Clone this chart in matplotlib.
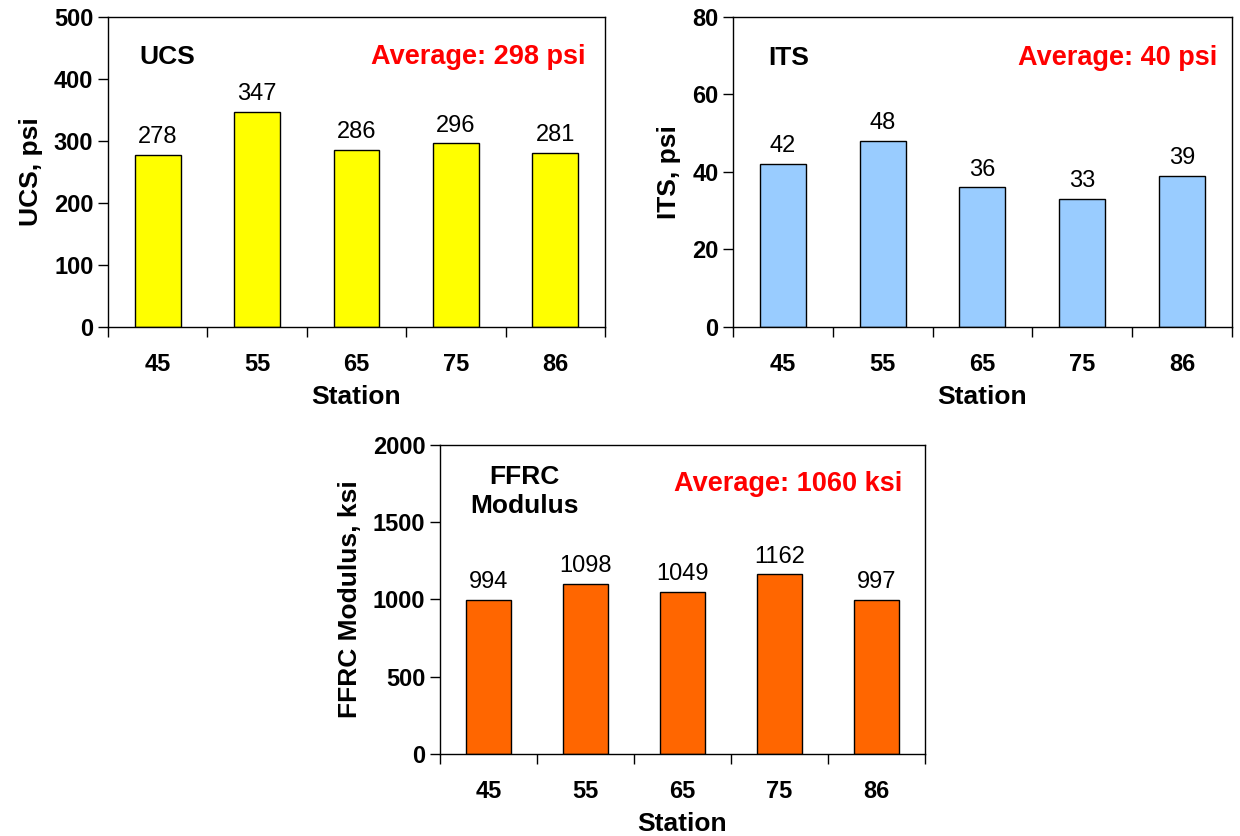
import numpy as np
import matplotlib
matplotlib.use("Agg")
import matplotlib.pyplot as plt

plt.rcParams['font.family'] = ['Liberation Sans', 'DejaVu Sans']

stations = ["45", "55", "65", "75", "86"]
ucs = [278, 347, 286, 296, 281]
its = [42, 48, 36, 33, 39]
ffrc = [994, 1098, 1049, 1162, 997]

fig = plt.figure(figsize=(12.4, 8.36), dpi=100)
ax1 = fig.add_axes([0.0871, 0.6089, 0.4008, 0.3708])
ax2 = fig.add_axes([0.5911, 0.6089, 0.4024, 0.3708])
ax3 = fig.add_axes([0.3548, 0.0981, 0.3911, 0.3696])


def panel(ax, vals, color, ymax, ystep, ylabel, name, name_xy, avg_text, avg_xy):
    x = np.arange(len(vals))
    bars = ax.bar(x, vals, width=0.46, color=color, edgecolor="black", linewidth=1)
    for b, v in zip(bars, vals):
        ax.annotate(str(v), (b.get_x() + b.get_width() / 2, v), xytext=(0, 5),
                    textcoords="offset points", ha="center", va="bottom", fontsize=17)
    ax.set_xlim(-0.5, len(vals) - 0.5)
    ax.set_ylim(0, ymax)
    ax.set_yticks(np.arange(0, ymax + 1, ystep))
    # ticks sit between the stations, labels at the bar centres
    ax.set_xticks(np.arange(len(vals) + 1) - 0.5)
    ax.set_xticklabels([])
    ax.set_xticks(x, minor=True)
    ax.set_xticklabels(stations, minor=True, fontsize=17, fontweight="bold")
    ax.tick_params(axis="x", which="major", direction="out", length=7, width=1)
    ax.tick_params(axis="x", which="minor", length=0, pad=19)
    ax.tick_params(axis="y", direction="out", length=7, width=1, labelsize=17)
    for lab in ax.get_yticklabels():
        lab.set_fontweight("bold")
    for s in ax.spines.values():
        s.set_linewidth(1)
    ax.set_xlabel("Station", fontsize=19, fontweight="bold", labelpad=6)
    ax.set_ylabel(ylabel, fontsize=19, fontweight="bold", labelpad=8)
    ax.text(name_xy[0], name_xy[1], name, transform=ax.transAxes, fontsize=19,
            fontweight="bold", ha="center", va="center", linespacing=1.25)
    ax.text(avg_xy[0], avg_xy[1], avg_text, transform=ax.transAxes, fontsize=19.5,
            fontweight="bold", color="red", ha="right", va="center")


panel(ax1, ucs, "#FFFF00", 500, 100, "UCS, psi", "UCS", (0.12, 0.87),
      "Average: 298 psi", (0.96, 0.87))
panel(ax2, its, "#99CCFF", 80, 20, "ITS, psi", "ITS", (0.112, 0.867),
      "Average: 40 psi", (0.97, 0.867))
panel(ax3, ffrc, "#FF6600", 2000, 500, "FFRC Modulus, ksi", "FFRC\nModulus", (0.175, 0.85),
      "Average: 1060 ksi", (0.953, 0.874))

fig.savefig("out.png", dpi=100)
